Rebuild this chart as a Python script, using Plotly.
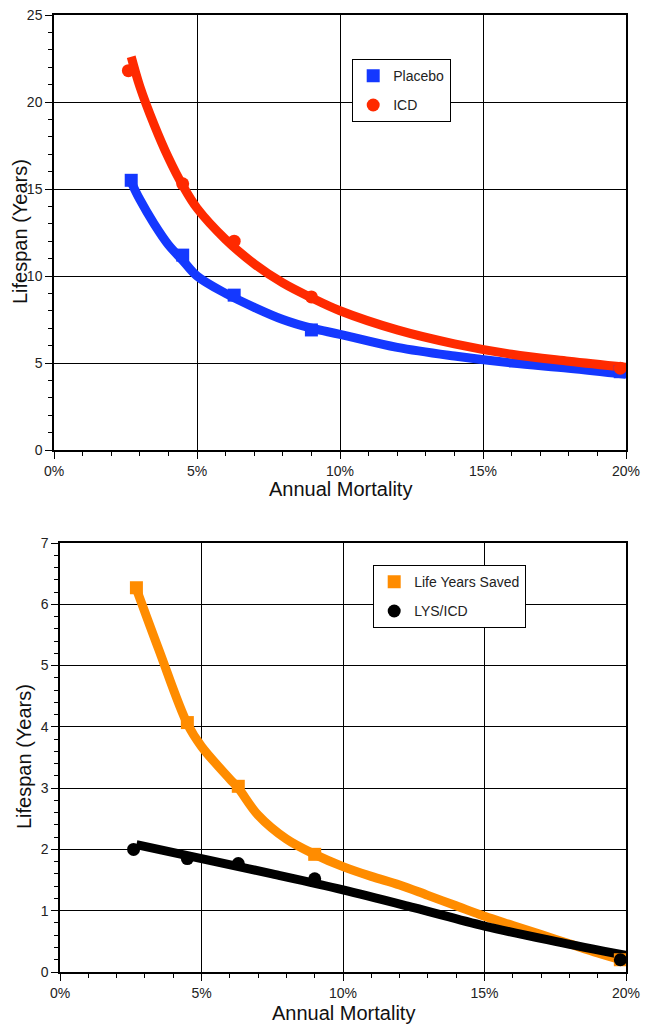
import plotly.graph_objects as go

# ---------------- data (top panel) ----------------
placebo_x = [2.7, 4.5, 6.3, 9.0, 19.8]
placebo_y = [15.5, 11.2, 8.9, 6.9, 4.5]
icd_x = [2.6, 4.5, 6.3, 9.0, 19.8]
icd_y = [21.8, 15.3, 12.0, 8.8, 4.7]

placebo_fit_x = [2.7, 3.0, 3.5, 4.0, 4.5, 5.0, 6.0, 7.0, 8.0, 9.0, 10.0, 12.0, 14.0, 16.0, 18.0, 20.0]
placebo_fit_y = [15.4, 14.4, 13.0, 11.8, 10.9, 10.0, 9.0, 8.2, 7.5, 7.0, 6.65, 5.9, 5.4, 5.0, 4.7, 4.35]
icd_fit_x = [2.7, 3.0, 3.5, 4.0, 4.5, 5.0, 6.0, 7.0, 8.0, 9.0, 10.0, 12.0, 14.0, 16.0, 18.0, 20.0]
icd_fit_y = [22.6, 20.9, 18.7, 16.8, 15.2, 13.9, 12.1, 10.7, 9.6, 8.75, 8.0, 6.9, 6.1, 5.5, 5.1, 4.75]

# ---------------- data (bottom panel) ----------------
lys_x = [2.7, 4.5, 6.3, 9.0, 19.8]
lys_y = [6.27, 4.07, 3.03, 1.92, 0.2]
lysicd_x = [2.6, 4.5, 6.3, 9.0, 19.8]
lysicd_y = [2.0, 1.85, 1.77, 1.52, 0.2]

lys_fit_x = [2.7, 3.5, 4.5, 5.0, 6.0, 6.3, 7.0, 8.0, 9.0, 10.0, 11.0, 12.0, 13.0, 14.0, 15.0, 16.0, 17.0, 18.0, 19.0, 19.9]
lys_fit_y = [6.25, 5.25, 4.05, 3.68, 3.15, 3.0, 2.56, 2.17, 1.92, 1.72, 1.56, 1.42, 1.25, 1.08, 0.91, 0.76, 0.61, 0.46, 0.31, 0.19]
lysicd_fit_x = [2.7, 5.0, 7.5, 10.0, 12.5, 15.0, 17.5, 20.0]
lysicd_fit_y = [2.08, 1.85, 1.6, 1.34, 1.05, 0.75, 0.5, 0.27]

x_tickvals = [0, 5, 10, 15, 20]
x_ticktext = ["0%", "5%", "10%", "15%", "20%"]
y1_tickvals = [0, 5, 10, 15, 20, 25]
y2_tickvals = [0, 1, 2, 3, 4, 5, 6, 7]

BLUE = "#1438ff"
RED = "#ff2a00"
ORANGE = "#ff8c00"
BLACK = "#000000"
FONT = "Liberation Sans, Arial, sans-serif"

fig = go.Figure()

# top panel
fig.add_trace(go.Scatter(x=placebo_fit_x, y=placebo_fit_y, mode="lines", line=dict(color=BLUE, width=9, shape="spline"),
                         showlegend=False, xaxis="x", yaxis="y"))
fig.add_trace(go.Scatter(x=icd_fit_x, y=icd_fit_y, mode="lines", line=dict(color=RED, width=9, shape="spline"),
                         showlegend=False, xaxis="x", yaxis="y"))
fig.add_trace(go.Scatter(x=placebo_x, y=placebo_y, mode="markers", name="Placebo",
                         marker=dict(symbol="square", size=13, color=BLUE), legendgroup="a", legend="legend",
                         xaxis="x", yaxis="y"))
fig.add_trace(go.Scatter(x=icd_x, y=icd_y, mode="markers", name="ICD",
                         marker=dict(symbol="circle", size=13, color=RED), legendgroup="b", legend="legend",
                         xaxis="x", yaxis="y"))

# bottom panel
fig.add_trace(go.Scatter(x=lys_fit_x, y=lys_fit_y, mode="lines", line=dict(color=ORANGE, width=9, shape="spline"),
                         showlegend=False, xaxis="x2", yaxis="y2"))
fig.add_trace(go.Scatter(x=lysicd_fit_x, y=lysicd_fit_y, mode="lines", line=dict(color=BLACK, width=9, shape="spline"),
                         showlegend=False, xaxis="x2", yaxis="y2"))
fig.add_trace(go.Scatter(x=lys_x, y=lys_y, mode="markers", name="Life Years Saved",
                         marker=dict(symbol="square", size=13, color=ORANGE), legendgroup="c", legend="legend2",
                         xaxis="x2", yaxis="y2"))
fig.add_trace(go.Scatter(x=lysicd_x, y=lysicd_y, mode="markers", name="LYS/ICD",
                         marker=dict(symbol="circle", size=13, color=BLACK), legendgroup="d", legend="legend2",
                         xaxis="x2", yaxis="y2"))

OFF = 8    # page body margin offset (vertical)
XOFF = 14  # horizontal offset (body margin + small shift so the right tick label stays visible)
W, H = 651 - 8, 1032 - 2 * OFF


def px(p):
    return (p - XOFF) / W


def py(p):
    return 1 - (p - OFF) / H


def axis_style(minor_dtick):
    return dict(showline=True, linecolor="black", linewidth=1.5, mirror=True, automargin=False,
                showgrid=True, gridcolor="black", gridwidth=1.2, zeroline=False,
                ticks="outside", ticklen=7, tickwidth=1.2, tickcolor="black",
                ticklabeloverflow="allow",
                tickfont=dict(family=FONT, size=14, color="#222"),
                minor=dict(ticks="outside", ticklen=4, tickwidth=1, tickcolor="black",
                           dtick=minor_dtick, tick0=0, showgrid=False))


fig.update_layout(
    width=W, height=H,
    margin=dict(l=0, r=0, t=0, b=0, autoexpand=False),
    paper_bgcolor="white", plot_bgcolor="white",
    font=dict(family=FONT, color="#222"),
    xaxis=dict(domain=[px(60), px(632)], range=[0, 20], tickvals=x_tickvals, ticktext=x_ticktext,
               anchor="y", **axis_style(1)),
    yaxis=dict(domain=[py(450), py(15)], range=[0, 25], tickvals=y1_tickvals,
               anchor="x", **axis_style(1)),
    xaxis2=dict(domain=[px(66), px(632)], range=[0, 20], tickvals=x_tickvals, ticktext=x_ticktext,
                anchor="y2", **axis_style(1)),
    yaxis2=dict(domain=[py(972), py(543)], range=[0, 7], tickvals=y2_tickvals,
                anchor="x2", **axis_style(0.2)),
    legend=dict(x=px(358), y=py(59), xanchor="left", yanchor="top", bgcolor="white",
                bordercolor="black", borderwidth=1.2, tracegroupgap=8,
                font=dict(family=FONT, size=14, color="#222")),
    legend2=dict(x=px(379), y=py(565), xanchor="left", yanchor="top", bgcolor="white",
                 bordercolor="black", borderwidth=1.2, tracegroupgap=8,
                 font=dict(family=FONT, size=14, color="#222")),
    annotations=[
        dict(text="Annual Mortality", x=px(346), y=py(489), xref="paper", yref="paper",
             showarrow=False, font=dict(family=FONT, size=20, color="#111"), xanchor="center", yanchor="middle"),
        dict(text="Lifespan (Years)", x=px(26), y=py(232), xref="paper", yref="paper", textangle=-90,
             showarrow=False, font=dict(family=FONT, size=20, color="#111"), xanchor="center", yanchor="middle"),
        dict(text="Annual Mortality", x=px(349), y=py(1013), xref="paper", yref="paper",
             showarrow=False, font=dict(family=FONT, size=20, color="#111"), xanchor="center", yanchor="middle"),
        dict(text="Lifespan (Years)", x=px(30), y=py(757), xref="paper", yref="paper", textangle=-90,
             showarrow=False, font=dict(family=FONT, size=20, color="#111"), xanchor="center", yanchor="middle"),
    ],
)

fig.write_html("out.html")
